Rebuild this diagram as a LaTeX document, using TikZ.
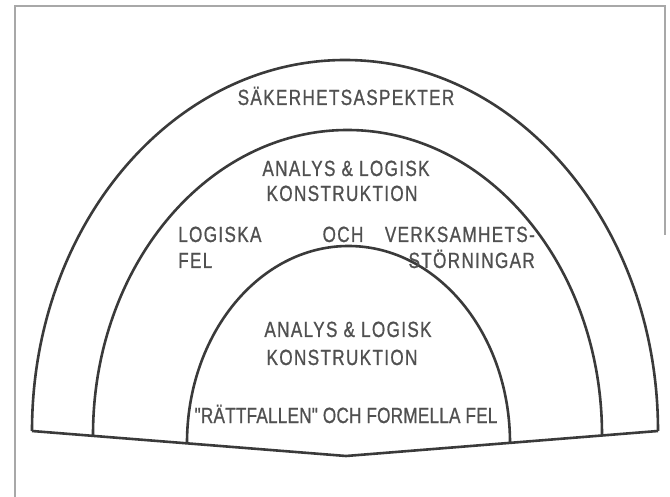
\documentclass[tikz,border=0pt]{standalone}
\usepackage{fontspec}
\usepackage{xcolor}

\newfontfamily\stencilfont[FakeStretch=0.78,LetterSpace=6,FakeBold=0.8]{Liberation Sans}
\newfontfamily\stenciltight[FakeStretch=0.78,LetterSpace=1,FakeBold=0.8]{Liberation Sans}
\definecolor{ink}{HTML}{3A3A3A}
\definecolor{lead}{HTML}{505050}
\definecolor{paperedge}{HTML}{A8A8A8}

\begin{document}
\begin{tikzpicture}[x=1pt, y=-1pt,
    archline/.style={draw=ink, line width=2.6pt, line join=round},
    lettering/.style={inner sep=0pt, text=lead, anchor=base,
        font=\stencilfont\fontsize{22}{26}\selectfont}]
            \useasboundingbox (0,0) rectangle (670,497);

            % Frame
            \draw[paperedge, line width=1.2pt] (15,497) -- (15,6) -- (665,6) -- (665,235);

            % Base line
            \coordinate (bl) at (32,431);
            \coordinate (bv) at (346,456);
            \coordinate (br) at (658,431);
            \draw[archline] (bl) -- (bv) -- (br);

            % Arches
            \draw[archline] (bl) arc[start angle=180, end angle=360, x radius=313, y radius=371];
            \draw[archline] (93,435) arc[start angle=180, end angle=360, x radius=254.5, y radius=305];
            \draw[archline] (187,443) arc[start angle=180, end angle=360, x radius=161.5, y radius=197];

            % Level 0
            \node[lettering] (sak) at (346,105) {SÄKERHETSASPEKTER};

            % Level 1
            \node[lettering] (ana1) at (346,176) {ANALYS \& LOGISK};
            \node[lettering] (kon1) at (342,201) {KONSTRUKTION};
            \node[lettering, anchor=base west] (log) at (178,242) {LOGISKA};
            \node[lettering, anchor=base west] (fel) at (178,268) {FEL};
            \node[lettering] (och) at (343,242) {OCH};
            \node[lettering, anchor=base east] (verk) at (535,242) {VERKSAMHETS-};
            \node[lettering, anchor=base east] (stor) at (535,268) {STÖRNINGAR};

            % Level 2
            \node[lettering] (ana2) at (348,337) {ANALYS \& LOGISK};
            \node[lettering] (kon2) at (342,365) {KONSTRUKTION};
            \node[lettering, font=\stenciltight\fontsize{22}{26}\selectfont] (ratt) at (346,423) {"RÄTTFALLEN" OCH FORMELLA FEL};
        \end{tikzpicture}
\end{document}
